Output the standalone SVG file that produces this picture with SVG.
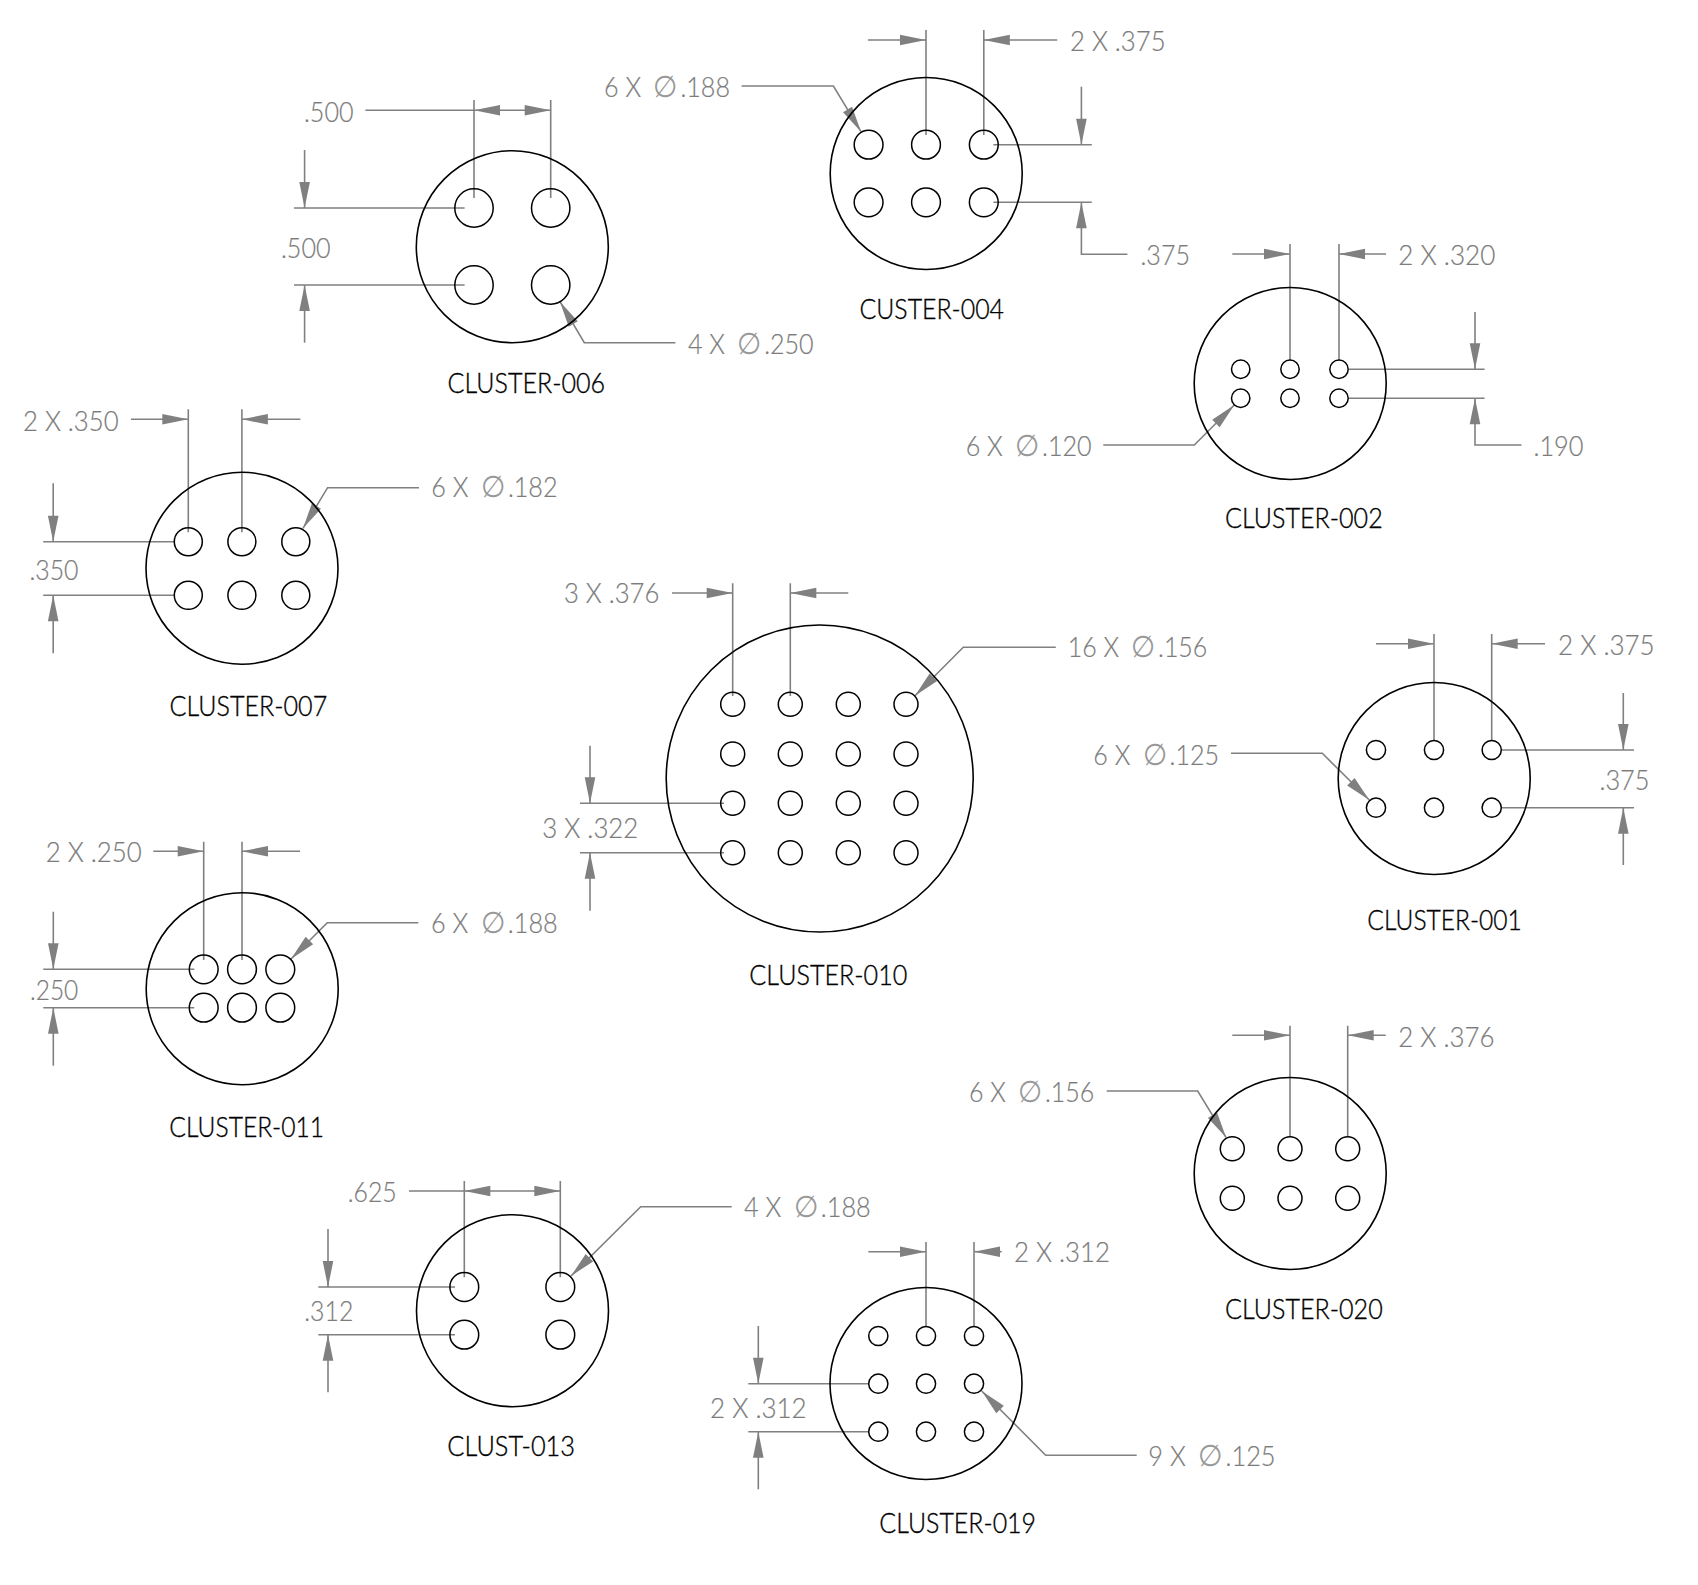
<svg xmlns="http://www.w3.org/2000/svg" width="1698" height="1585" viewBox="0 0 1698 1585">
<style>
text{font-family:"Lato","Liberation Sans",sans-serif;font-weight:300;transform:translateY(.6px)}
.t{font-size:27px;fill:#7c7c7c;stroke:#7c7c7c;stroke-width:.2}
.l{font-size:27px;fill:#000;stroke:#000;stroke-width:.35}
.p{font-family:"DejaVu Sans",sans-serif;font-weight:200;font-size:30px;fill:#999;stroke:none}
.b{fill:none;stroke:#000;stroke-width:1.6}
.h{fill:none;stroke:#000;stroke-width:1.5}
.e{fill:none;stroke:#808080;stroke-width:1.6}
.a{fill:none;stroke:#808080;stroke-width:1.6;marker-end:url(#ar)}
</style>
<defs>
<marker id="ar" markerUnits="userSpaceOnUse" viewBox="0 0 26 11" refX="26" refY="5.5" markerWidth="26" markerHeight="11" orient="auto" overflow="visible"><path d="M0 .2L26 5.5L0 10.8Z" fill="#808080"/></marker>
</defs>
<g id="connectors">
<!-- 006 -->
<path class="e" d="M474 100V198M550.7 100V198M365.4 110.3H474M294 208H464.6M294 285H464.6"/>
<path class="a" d="M512 110.3H474"/><path class="a" d="M512 110.3H550.7"/>
<path class="a" d="M304.6 150V208"/><path class="a" d="M304.6 342.7V285"/>
<path class="a" d="M675.4 342.7H584.3L560 301.7"/>
<!-- 004 -->
<path class="e" d="M926 30V135M983.8 30V135M993.4 144.7H1091.8M993.4 202.3H1091.8"/>
<path class="a" d="M867.9 40H926"/><path class="a" d="M1057.3 40H983.8"/>
<path class="a" d="M1081.4 86.7V144.7"/><path class="a" d="M1127.4 254.3H1081.4V202.3"/>
<path class="a" d="M741.6 86H833.4L861 131.7"/>
<!-- 002 -->
<path class="e" d="M1290 244V360M1339 244V360M1349 369.3H1484.6M1349 398.3H1484.6"/>
<path class="a" d="M1232.3 254H1290"/><path class="a" d="M1386 254H1339"/>
<path class="a" d="M1475 312V369.3"/><path class="a" d="M1521.5 445H1475V398.3"/>
<path class="a" d="M1103.3 445H1194.3L1234.3 405"/>
<!-- 007 -->
<path class="e" d="M188.3 409.3V532.3M241.9 409.3V532.3M43.2 541.7H174M43.2 595.3H174"/>
<path class="a" d="M130.9 419.3H188.3"/><path class="a" d="M300.4 419.3H241.9"/>
<path class="a" d="M53.2 483.3V541.7"/><path class="a" d="M53.2 653.3V595.3"/>
<path class="a" d="M419 487.7H327.6L303 528.3"/>
<!-- 010 -->
<path class="e" d="M732.7 583.3V696M790.3 583.3V696M580 803.3H724M580 852.7H724"/>
<path class="a" d="M672 593H732.7"/><path class="a" d="M848.3 593H790.3"/>
<path class="a" d="M590 745.7V803.3"/><path class="a" d="M590 910.7V852.7"/>
<path class="a" d="M1055.8 647.3H963.3L915 695.7"/>
<!-- 001 -->
<path class="e" d="M1434 634V740M1491.7 634V740M1501.7 750H1634M1501.7 807.7H1634"/>
<path class="a" d="M1376 643.7H1434"/><path class="a" d="M1545 643.7H1491.7"/>
<path class="a" d="M1623.3 693V750"/><path class="a" d="M1623.3 865V807.7"/>
<path class="a" d="M1231 753.3H1322.3L1369.3 800"/>
<!-- 011 -->
<path class="e" d="M203.7 841.7V960M242 841.7V960M43.3 969.3H194.3M43.3 1007.7H194.3"/>
<path class="a" d="M153.3 851.3H203.7"/><path class="a" d="M300 851.3H242"/>
<path class="a" d="M53.3 911.7V969.3"/><path class="a" d="M53.3 1065.7V1007.7"/>
<path class="a" d="M418.3 922.7H327.3L291 959"/>
<!-- 013 -->
<path class="e" d="M464.3 1181V1277.3M560.3 1181V1277.3M409 1191H464.3M318.3 1287H455M318.3 1334.7H455"/>
<path class="a" d="M512 1191H464.3"/><path class="a" d="M512 1191H560.3"/>
<path class="a" d="M328 1229V1287"/><path class="a" d="M328 1392.3V1334.7"/>
<path class="a" d="M731.7 1206.7H640.7L571 1276"/>
<!-- 019 -->
<path class="e" d="M926 1242V1326.7M974 1242V1326.7M748.3 1383.7H868.3M748.3 1431.7H868.3"/>
<path class="a" d="M868.3 1251.7H926"/><path class="a" d="M1001.7 1251.7H974"/>
<path class="a" d="M758.3 1326V1383.7"/><path class="a" d="M758.3 1489.3V1431.7"/>
<path class="a" d="M1136.7 1455.3H1045.7L981.7 1391"/>
<!-- 020 -->
<path class="e" d="M1290 1025.7V1136.7M1347.7 1025.7V1136.7"/>
<path class="a" d="M1232.3 1035.3H1290"/><path class="a" d="M1385.7 1035.3H1347.7"/>
<path class="a" d="M1106.7 1091H1197.7L1226 1137.3"/>
</g>
<g id="cluster-006">
<circle class="b" cx="512.3" cy="246.7" r="96"/>
<circle class="h" cx="474" cy="208" r="19.2"/><circle class="h" cx="550.7" cy="208" r="19.2"/><circle class="h" cx="474" cy="285" r="19.2"/><circle class="h" cx="550.7" cy="285" r="19.2"/>
<text class="t" x="304" y="121" textLength="49.5" lengthAdjust="spacingAndGlyphs">.500</text>
<text class="t" x="281" y="257" textLength="49.5" lengthAdjust="spacingAndGlyphs">.500</text>
<text class="t" x="688" y="353.3" textLength="125.6" lengthAdjust="spacingAndGlyphs">4 X <tspan class="p" dx="6">∅</tspan><tspan dx="3">.250</tspan></text>
<text class="l" x="447.5" y="392.7" textLength="157.5" lengthAdjust="spacingAndGlyphs">CLUSTER-006</text>
</g>
<g id="cluster-004">
<circle class="b" cx="926.2" cy="173.5" r="96"/>
<circle class="h" cx="868.6" cy="144.7" r="14.4"/><circle class="h" cx="926" cy="144.7" r="14.4"/><circle class="h" cx="983.8" cy="144.7" r="14.4"/><circle class="h" cx="868.6" cy="202.3" r="14.4"/><circle class="h" cx="926" cy="202.3" r="14.4"/><circle class="h" cx="983.8" cy="202.3" r="14.4"/>
<text class="t" x="1070" y="50" textLength="95.6" lengthAdjust="spacingAndGlyphs">2 X .375</text>
<text class="t" x="604" y="96" textLength="126" lengthAdjust="spacingAndGlyphs">6 X <tspan class="p" dx="6">∅</tspan><tspan dx="3">.188</tspan></text>
<text class="t" x="1140.5" y="264" textLength="49.5" lengthAdjust="spacingAndGlyphs">.375</text>
<text class="l" x="859.5" y="318.3" textLength="144.5" lengthAdjust="spacingAndGlyphs">CUSTER-004</text>
</g>
<g id="cluster-002">
<circle class="b" cx="1290.2" cy="383.5" r="96"/>
<circle class="h" cx="1240.7" cy="369.3" r="9.2"/><circle class="h" cx="1290" cy="369.3" r="9.2"/><circle class="h" cx="1339" cy="369.3" r="9.2"/><circle class="h" cx="1240.7" cy="398.3" r="9.2"/><circle class="h" cx="1290" cy="398.3" r="9.2"/><circle class="h" cx="1339" cy="398.3" r="9.2"/>
<text class="t" x="1398.3" y="264" textLength="97" lengthAdjust="spacingAndGlyphs">2 X .320</text>
<text class="t" x="965.7" y="455" textLength="126" lengthAdjust="spacingAndGlyphs">6 X <tspan class="p" dx="6">∅</tspan><tspan dx="3">.120</tspan></text>
<text class="t" x="1533.5" y="455" textLength="50" lengthAdjust="spacingAndGlyphs">.190</text>
<text class="l" x="1225" y="527.7" textLength="157.7" lengthAdjust="spacingAndGlyphs">CLUSTER-002</text>
</g>
<g id="cluster-007">
<circle class="b" cx="242" cy="568.3" r="96"/>
<circle class="h" cx="188.3" cy="541.7" r="14"/><circle class="h" cx="241.9" cy="541.7" r="14"/><circle class="h" cx="295.8" cy="541.7" r="14"/><circle class="h" cx="188.3" cy="595.3" r="14"/><circle class="h" cx="241.9" cy="595.3" r="14"/><circle class="h" cx="295.8" cy="595.3" r="14"/>
<text class="t" x="23" y="430" textLength="95.6" lengthAdjust="spacingAndGlyphs">2 X .350</text>
<text class="t" x="431.3" y="496.7" textLength="126.3" lengthAdjust="spacingAndGlyphs">6 X <tspan class="p" dx="6">∅</tspan><tspan dx="3">.182</tspan></text>
<text class="t" x="29.5" y="579" textLength="49" lengthAdjust="spacingAndGlyphs">.350</text>
<text class="l" x="169.5" y="715" textLength="157.7" lengthAdjust="spacingAndGlyphs">CLUSTER-007</text>
</g>
<g id="cluster-010">
<circle class="b" cx="819.7" cy="778.5" r="153.5"/>
<g>
<circle class="h" cx="732.7" cy="704.3" r="12"/><circle class="h" cx="790.3" cy="704.3" r="12"/><circle class="h" cx="848.3" cy="704.3" r="12"/><circle class="h" cx="906" cy="704.3" r="12"/>
<circle class="h" cx="732.7" cy="754" r="12"/><circle class="h" cx="790.3" cy="754" r="12"/><circle class="h" cx="848.3" cy="754" r="12"/><circle class="h" cx="906" cy="754" r="12"/>
<circle class="h" cx="732.7" cy="803.3" r="12"/><circle class="h" cx="790.3" cy="803.3" r="12"/><circle class="h" cx="848.3" cy="803.3" r="12"/><circle class="h" cx="906" cy="803.3" r="12"/>
<circle class="h" cx="732.7" cy="852.7" r="12"/><circle class="h" cx="790.3" cy="852.7" r="12"/><circle class="h" cx="848.3" cy="852.7" r="12"/><circle class="h" cx="906" cy="852.7" r="12"/>
</g>
<text class="t" x="564" y="602.7" textLength="95.3" lengthAdjust="spacingAndGlyphs">3 X .376</text>
<text class="t" x="542.3" y="837.7" textLength="96" lengthAdjust="spacingAndGlyphs">3 X .322</text>
<text class="t" x="1067.7" y="656.7" textLength="139.6" lengthAdjust="spacingAndGlyphs">16 X <tspan class="p" dx="6">∅</tspan><tspan dx="3">.156</tspan></text>
<text class="l" x="749.3" y="984.3" textLength="158" lengthAdjust="spacingAndGlyphs">CLUSTER-010</text>
</g>
<g id="cluster-001">
<circle class="b" cx="1434.2" cy="778.5" r="96"/>
<circle class="h" cx="1376" cy="750" r="9.6"/><circle class="h" cx="1434" cy="750" r="9.6"/><circle class="h" cx="1491.7" cy="750" r="9.6"/><circle class="h" cx="1376" cy="807.7" r="9.6"/><circle class="h" cx="1434" cy="807.7" r="9.6"/><circle class="h" cx="1491.7" cy="807.7" r="9.6"/>
<text class="t" x="1558" y="654" textLength="96.7" lengthAdjust="spacingAndGlyphs">2 X .375</text>
<text class="t" x="1093.3" y="764" textLength="125.7" lengthAdjust="spacingAndGlyphs">6 X <tspan class="p" dx="6">∅</tspan><tspan dx="3">.125</tspan></text>
<text class="t" x="1599.5" y="789.5" textLength="50" lengthAdjust="spacingAndGlyphs">.375</text>
<text class="l" x="1367.3" y="929.3" textLength="154.4" lengthAdjust="spacingAndGlyphs">CLUSTER-001</text>
</g>
<g id="cluster-011">
<circle class="b" cx="242.2" cy="988.7" r="96"/>
<circle class="h" cx="203.7" cy="969.3" r="14.4"/><circle class="h" cx="242" cy="969.3" r="14.4"/><circle class="h" cx="280.3" cy="969.3" r="14.4"/><circle class="h" cx="203.7" cy="1007.7" r="14.4"/><circle class="h" cx="242" cy="1007.7" r="14.4"/><circle class="h" cx="280.3" cy="1007.7" r="14.4"/>
<text class="t" x="45.7" y="861" textLength="96" lengthAdjust="spacingAndGlyphs">2 X .250</text>
<text class="t" x="30" y="999" textLength="48.3" lengthAdjust="spacingAndGlyphs">.250</text>
<text class="t" x="431" y="932.7" textLength="126.7" lengthAdjust="spacingAndGlyphs">6 X <tspan class="p" dx="6">∅</tspan><tspan dx="3">.188</tspan></text>
<text class="l" x="169.3" y="1136.7" textLength="154.7" lengthAdjust="spacingAndGlyphs">CLUSTER-011</text>
</g>
<g id="clust-013">
<circle class="b" cx="512.5" cy="1310.7" r="96"/>
<circle class="h" cx="464.3" cy="1287" r="14.4"/><circle class="h" cx="560.3" cy="1287" r="14.4"/><circle class="h" cx="464.3" cy="1334.7" r="14.4"/><circle class="h" cx="560.3" cy="1334.7" r="14.4"/>
<text class="t" x="347.7" y="1201" textLength="49" lengthAdjust="spacingAndGlyphs">.625</text>
<text class="t" x="304.3" y="1320.7" textLength="49" lengthAdjust="spacingAndGlyphs">.312</text>
<text class="t" x="744" y="1216.7" textLength="126.7" lengthAdjust="spacingAndGlyphs">4 X <tspan class="p" dx="6">∅</tspan><tspan dx="3">.188</tspan></text>
<text class="l" x="447.3" y="1455" textLength="127.7" lengthAdjust="spacingAndGlyphs">CLUST-013</text>
</g>
<g id="cluster-019">
<circle class="b" cx="926" cy="1383.5" r="96"/>
<circle class="h" cx="878.3" cy="1336" r="9.6"/><circle class="h" cx="926" cy="1336" r="9.6"/><circle class="h" cx="974" cy="1336" r="9.6"/><circle class="h" cx="878.3" cy="1383.7" r="9.6"/><circle class="h" cx="926" cy="1383.7" r="9.6"/><circle class="h" cx="974" cy="1383.7" r="9.6"/><circle class="h" cx="878.3" cy="1431.7" r="9.6"/><circle class="h" cx="926" cy="1431.7" r="9.6"/><circle class="h" cx="974" cy="1431.7" r="9.6"/>
<text class="t" x="1014" y="1261.7" textLength="96" lengthAdjust="spacingAndGlyphs">2 X .312</text>
<text class="t" x="710" y="1417.7" textLength="96.7" lengthAdjust="spacingAndGlyphs">2 X .312</text>
<text class="t" x="1148.3" y="1465" textLength="127.3" lengthAdjust="spacingAndGlyphs">9 X <tspan class="p" dx="6">∅</tspan><tspan dx="3">.125</tspan></text>
<text class="l" x="879.3" y="1532.3" textLength="156.7" lengthAdjust="spacingAndGlyphs">CLUSTER-019</text>
</g>
<g id="cluster-020">
<circle class="b" cx="1290.2" cy="1173.5" r="96"/>
<circle class="h" cx="1232.3" cy="1148.7" r="12"/><circle class="h" cx="1290" cy="1148.7" r="12"/><circle class="h" cx="1347.7" cy="1148.7" r="12"/><circle class="h" cx="1232.3" cy="1198.3" r="12"/><circle class="h" cx="1290" cy="1198.3" r="12"/><circle class="h" cx="1347.7" cy="1198.3" r="12"/>
<text class="t" x="1398.3" y="1046" textLength="96.1" lengthAdjust="spacingAndGlyphs">2 X .376</text>
<text class="t" x="969" y="1101" textLength="125.3" lengthAdjust="spacingAndGlyphs">6 X <tspan class="p" dx="6">∅</tspan><tspan dx="3">.156</tspan></text>
<text class="l" x="1225" y="1318.3" textLength="157.7" lengthAdjust="spacingAndGlyphs">CLUSTER-020</text>
</g>
</svg>
